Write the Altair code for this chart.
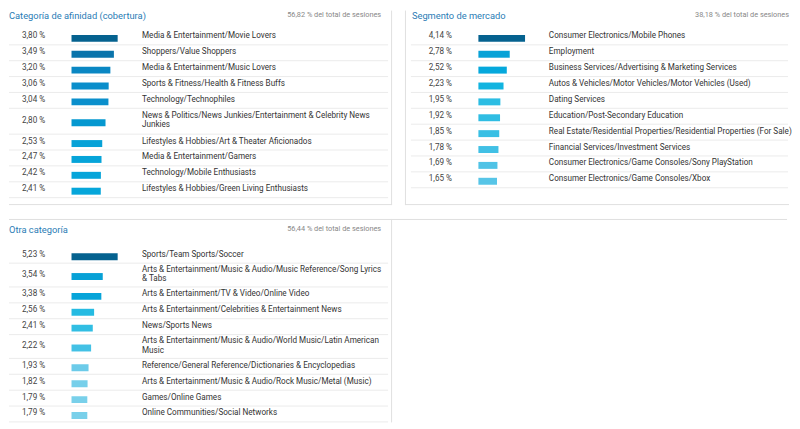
import altair as alt
import pandas as pd

# ---------------- data ----------------
afinidad_title = "Categoría de afinidad (cobertura)"
afinidad_total = "56,82 % del total de sesiones"
afinidad_labels = [
    "Media & Entertainment/Movie Lovers",
    "Shoppers/Value Shoppers",
    "Media & Entertainment/Music Lovers",
    "Sports & Fitness/Health & Fitness Buffs",
    "Technology/Technophiles",
    "News & Politics/News Junkies/Entertainment & Celebrity News\nJunkies",
    "Lifestyles & Hobbies/Art & Theater Aficionados",
    "Media & Entertainment/Gamers",
    "Technology/Mobile Enthusiasts",
    "Lifestyles & Hobbies/Green Living Enthusiasts",
]
afinidad_values = [3.80, 3.49, 3.20, 3.06, 3.04, 2.80, 2.53, 2.47, 2.42, 2.41]

mercado_title = "Segmento de mercado"
mercado_total = "38,18 % del total de sesiones"
mercado_labels = [
    "Consumer Electronics/Mobile Phones",
    "Employment",
    "Business Services/Advertising & Marketing Services",
    "Autos & Vehicles/Motor Vehicles/Motor Vehicles (Used)",
    "Dating Services",
    "Education/Post-Secondary Education",
    "Real Estate/Residential Properties/Residential Properties (For Sale)",
    "Financial Services/Investment Services",
    "Consumer Electronics/Game Consoles/Sony PlayStation",
    "Consumer Electronics/Game Consoles/Xbox",
]
mercado_values = [4.14, 2.78, 2.52, 2.23, 1.95, 1.92, 1.85, 1.78, 1.69, 1.65]

otra_title = "Otra categoría"
otra_total = "56,44 % del total de sesiones"
otra_labels = [
    "Sports/Team Sports/Soccer",
    "Arts & Entertainment/Music & Audio/Music Reference/Song Lyrics\n& Tabs",
    "Arts & Entertainment/TV & Video/Online Video",
    "Arts & Entertainment/Celebrities & Entertainment News",
    "News/Sports News",
    "Arts & Entertainment/Music & Audio/World Music/Latin American\nMusic",
    "Reference/General Reference/Dictionaries & Encyclopedias",
    "Arts & Entertainment/Music & Audio/Rock Music/Metal (Music)",
    "Games/Online Games",
    "Online Communities/Social Networks",
]
otra_values = [5.23, 3.54, 3.38, 2.56, 2.41, 2.22, 1.93, 1.82, 1.79, 1.79]

# colour ramp: share of the panel's maximum -> colour
ratio_stops = [0.34, 0.37, 0.42, 0.47, 0.54, 0.61, 0.67, 0.74, 0.80, 0.84, 0.92, 1.0]
ratio_colors = ["#7ad0ea", "#6ccbe9", "#45c1e5", "#2bbde3", "#10b4e0", "#05a8dc",
                "#07a2d7", "#0598d0", "#0a8fcc", "#0a88c4", "#0a74aa", "#05628f"]

FONT = "Roboto"
TITLE_COLOR = "#2a7cb5"
TEXT_COLOR = "#333333"
GRID = "#ebebeb"
BORDER = "#e0e0e0"
LABEL_SIZE = 8.2
LINE_H = 9.5


def fmt(v):
    return f"{v:.2f}".replace(".", ",") + " %"


def panel(title, total, labels, values, w, h, top0, two_line_h, title_xy, total_xy,
          val_x, bar_x, bar_len, lab_x, sep_x, borders):
    heights = [two_line_h if "\n" in l else 16 for l in labels]
    nlines = [l.count("\n") + 1 for l in labels]
    tops = []
    t = top0
    for hh in heights:
        tops.append(t)
        t += hh
    vmax = max(values)
    df = pd.DataFrame({
        "label": labels,
        "value": values,
        "text": [fmt(v) for v in values],
        "ratio": [v / vmax for v in values],
        "center": [tp + hh / 2 for tp, hh in zip(tops, heights)],
        "bottom": [tp + hh - 0.5 for tp, hh in zip(tops, heights)],
    })
    df["ty"] = df["center"] - 1
    df["ly"] = df["ty"] - [(n - 1) * LINE_H / 2 for n in nlines]
    df["b1"] = df["center"] - 2.5
    df["b2"] = df["center"] + 4.5

    ys = alt.Scale(domain=[0, h], range=[0, h], nice=False, zero=False)
    xs = alt.Scale(domain=[0, vmax], range=[bar_x, bar_x + bar_len], nice=False, zero=False)
    base = alt.Chart(df)

    seps = base.mark_rule(color=GRID, strokeWidth=1).encode(
        y=alt.Y("bottom:Q", scale=ys, axis=None),
        x=alt.value(sep_x[0]), x2=alt.value(sep_x[1]))
    bars = base.mark_rect().encode(
        x=alt.X("value:Q", scale=xs, axis=None),
        x2=alt.datum(0),
        y=alt.Y("b1:Q", scale=ys, axis=None),
        y2="b2:Q",
        color=alt.Color("ratio:Q", scale=alt.Scale(domain=ratio_stops, range=ratio_colors), legend=None))
    vals = base.mark_text(align="left", baseline="middle", font=FONT, fontSize=LABEL_SIZE,
                          color="#444444").encode(
        x=alt.value(val_x), y=alt.Y("ty:Q", scale=ys, axis=None), text="text:N")
    labs = base.mark_text(align="left", baseline="middle", font=FONT, fontSize=LABEL_SIZE,
                          lineBreak="\n", lineHeight=LINE_H, color=TEXT_COLOR).encode(
        x=alt.value(lab_x), y=alt.Y("ly:Q", scale=ys, axis=None), text="label:N")

    head = pd.DataFrame({"title": [title], "total": [total]})
    ttl = alt.Chart(head).mark_text(align="left", baseline="middle", font=FONT,
                                    fontSize=9.4, color=TITLE_COLOR).encode(
        x=alt.value(title_xy[0]), y=alt.value(title_xy[1]), text="title:N")
    tot = alt.Chart(head).mark_text(align="right", baseline="middle", font=FONT,
                                    fontSize=7.4, color="#888888").encode(
        x=alt.value(total_xy[0]), y=alt.value(total_xy[1]), text="total:N")

    layers = [seps, bars, vals, labs, ttl, tot]
    for (x1, x2, y1, y2) in borders:
        layers.append(alt.Chart(head).mark_rule(color=BORDER, strokeWidth=1).encode(
            x=alt.value(x1), x2=alt.value(x2), y=alt.value(y1), y2=alt.value(y2)))
    return alt.layer(*layers).properties(width=w, height=h)


p1 = panel(afinidad_title, afinidad_total, afinidad_labels, afinidad_values,
           w=386, h=196, top0=19, two_line_h=26, title_xy=(0, 5), total_xy=(375, 4),
           val_x=13, bar_x=63, bar_len=46.5, lab_x=134, sep_x=(0, 382),
           borders=[(385.5, 385.5, 0, 196), (0, 386, 195.5, 195.5)])
p2 = panel(mercado_title, mercado_total, mercado_labels, mercado_values,
           w=387, h=196, top0=19, two_line_h=26, title_xy=(7, 5), total_xy=(387, 4),
           val_x=24, bar_x=74, bar_len=47, lab_x=145, sep_x=(6, 386),
           borders=[(0.5, 0.5, 0, 196), (0, 387, 195.5, 195.5)])
p3 = panel(otra_title, otra_total, otra_labels, otra_values,
           w=386, h=205, top0=29, two_line_h=24, title_xy=(0, 11), total_xy=(375, 10),
           val_x=13, bar_x=63, bar_len=46.5, lab_x=134, sep_x=(0, 382),
           borders=[(0, 784, 0.5, 0.5), (385.5, 385.5, 0, 205)])

chart = alt.vconcat(
    alt.hconcat(p1, p2, spacing=11),
    p3, spacing=12
).properties(padding=0).configure_view(stroke=None)

chart.save("out.html", embed_options={"renderer": "svg", "actions": False})
